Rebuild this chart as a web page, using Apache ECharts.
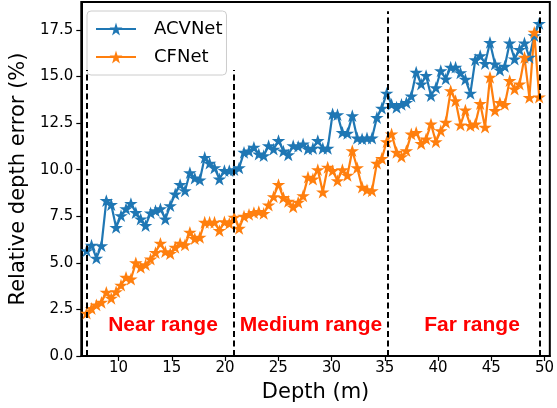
<!DOCTYPE html>
<html>
<head>
<meta charset="utf-8">
<script src="https://cdn.jsdelivr.net/npm/echarts@6/dist/echarts.min.js"></script>
<style>
    html, body { margin: 0; padding: 0; background: #fff; }
    #chart { width: 557px; height: 408px; }
</style>
</head>
<body>
<div id="chart"></div>
<script>
    // depth bins (m)
    const depth = [
        7.00, 7.46, 7.92, 8.39, 8.85, 9.31, 9.77, 10.23, 10.70, 11.16,
        11.62, 12.08, 12.54, 13.01, 13.47, 13.93, 14.39, 14.85, 15.32, 15.78,
        16.24, 16.70, 17.16, 17.63, 18.09, 18.55, 19.01, 19.47, 19.94, 20.40,
        20.86, 21.32, 21.78, 22.25, 22.71, 23.17, 23.63, 24.09, 24.56, 25.02,
        25.48, 25.94, 26.40, 26.87, 27.33, 27.79, 28.25, 28.71, 29.18, 29.64,
        30.10, 30.56, 31.02, 31.49, 31.95, 32.41, 32.87, 33.33, 33.80, 34.26,
        34.72, 35.18, 35.64, 36.11, 36.57, 37.03, 37.49, 37.95, 38.42, 38.88,
        39.34, 39.80, 40.26, 40.73, 41.19, 41.65, 42.11, 42.57, 43.04, 43.50,
        43.96, 44.42, 44.88, 45.35, 45.81, 46.27, 46.73, 47.19, 47.66, 48.12,
        48.58, 49.04, 49.50
    ];
    const acvnet = [
        5.65, 5.95, 5.25, 5.92, 8.34, 8.13, 6.9, 7.53, 7.9, 8.18,
        7.7, 7.35, 7.0, 7.68, 7.8, 7.9, 7.35, 8.07, 8.7, 9.2,
        8.87, 9.84, 9.55, 9.45, 10.66, 10.35, 10.1, 9.5, 9.95, 9.95,
        10.0, 10.1, 10.93, 11.0, 11.2, 10.84, 10.75, 11.29, 11.1, 11.56,
        11.0, 10.8, 11.29, 11.25, 11.38, 11.11, 11.15, 11.56, 11.15, 11.15,
        13.0, 12.95, 12.0, 11.95, 12.9, 11.7, 11.65, 11.7, 11.7, 12.8,
        13.3, 14.1, 13.5, 13.35, 13.5, 13.6, 13.95, 15.23, 14.6, 15.05,
        13.97, 14.4, 15.31, 14.87, 15.5, 15.5, 15.2, 14.85, 14.1, 15.9,
        16.12, 15.7, 16.83, 15.67, 15.35, 15.55, 16.8, 15.94, 16.45, 16.8,
        16.03, 17.19, 17.85
    ];
    const cfnet = [
        2.3, 2.55, 2.74, 2.88, 3.42, 3.1, 3.45, 3.8, 4.22, 4.13,
        5.0, 4.76, 4.9, 5.2, 5.55, 6.05, 5.6, 5.5, 5.83, 6.05,
        5.97, 6.64, 6.3, 6.37, 7.18, 7.18, 7.18, 6.73, 7.2, 7.12,
        7.45, 6.85, 7.5, 7.6, 7.7, 7.75, 7.65, 8.1, 8.55, 9.2,
        8.5, 8.3, 8.0, 8.25, 8.6, 9.6, 9.5, 10.0, 8.8, 10.13,
        9.95, 9.41, 10.0, 9.7, 11.02, 10.1, 9.06, 8.92, 8.87, 10.35,
        10.6, 11.5, 11.92, 10.93, 10.7, 11.02, 11.92, 12.0, 11.4, 11.65,
        12.45, 11.5, 12.09, 12.54, 14.24, 13.7, 12.4, 13.2, 12.37, 12.45,
        13.55, 12.28, 14.96, 13.17, 13.6, 13.5, 14.78, 14.33, 14.6, 16.03,
        13.88, 17.37, 13.9
    ];
    // range boundaries and the top of each dashed line
    const rangeBounds = [7.0, 20.8, 35.3, 49.6];
    const boundTops = [15.35, 15.35, 18.5, 18.5];
    const rangeNames = ['Near range', 'Medium range', 'Far range'];
    const xTicks = [10, 15, 20, 25, 30, 35, 40, 45, 50];
    const yTicks = [0, 2.5, 5, 7.5, 10, 12.5, 15, 17.5];

    const starPath = 'path://M50,0L61.23,34.55L97.55,34.55L68.17,55.9L79.39,90.45L50,69.1L20.61,90.45L31.83,55.9L2.45,34.55L38.77,34.55Z';

    function pairs(ys) {
        return ys.map((v, i) => [depth[i], v]);
    }

    let chart = echarts.init(document.getElementById('chart'));

    let boundLines = rangeBounds.map((x, i) => [{coord: [x, 0]}, {coord: [x, boundTops[i]]}]);

    let option = {
        animation: false,
        color: ['#1f77b4', '#ff7f0e'],
        textStyle: {fontFamily: 'DejaVu Sans'},
        grid: {
            left: 78, right: 4, top: 2, bottom: 51,
            show: true,
            borderColor: '#000',
            borderWidth: 2
        },
        legend: {
            orient: 'vertical',
            left: 87,
            top: 11,
            padding: [9, 4, 9, 8],
            itemWidth: 40,
            itemHeight: 16,
            itemGap: 10,
            borderColor: '#ccc',
            borderWidth: 1,
            borderRadius: 4,
            backgroundColor: 'rgba(255,255,255,0.8)',
            textStyle: {fontSize: 18, color: '#000', fontFamily: 'DejaVu Sans', padding: [0, 0, 0, 13]},
            data: ['ACVNet', 'CFNet']
        },
        xAxis: {
            type: 'value',
            min: 6.5,
            max: 50.5,
            name: 'Depth (m)',
            nameLocation: 'middle',
            nameGap: 26,
            nameTextStyle: {fontSize: 21, color: '#000'},
            splitLine: {show: false},
            axisLine: {lineStyle: {color: '#000', width: 2}},
            axisTick: {customValues: xTicks, length: 5, lineStyle: {color: '#000', width: 1.2}},
            axisLabel: {customValues: xTicks, fontSize: 15, color: '#000', margin: 5}
        },
        yAxis: {
            type: 'value',
            min: 0,
            max: 19,
            name: 'Relative depth error (%)',
            nameLocation: 'middle',
            nameGap: 46,
            nameTextStyle: {fontSize: 21, color: '#000'},
            splitLine: {show: false},
            axisLine: {lineStyle: {color: '#000', width: 2}},
            axisTick: {customValues: yTicks, length: 5, lineStyle: {color: '#000', width: 1.2}},
            axisLabel: {
                customValues: yTicks,
                fontSize: 15,
                color: '#000',
                margin: 8,
                formatter: v => v.toFixed(1)
            }
        },
        graphic: rangeNames.map((t, i) => ({
            type: 'text',
            x: [163, 311, 472][i],
            y: 325,
            style: {
                text: t,
                fill: '#ff0000',
                font: 'bold 21px "Liberation Sans", Arial, sans-serif',
                textAlign: 'center',
                textVerticalAlign: 'middle'
            }
        })),
        series: [
            {
                name: 'ACVNet',
                type: 'line',
                data: pairs(acvnet),
                symbol: starPath,
                symbolSize: [13.5, 12.8],
                showAllSymbol: true,
                lineStyle: {width: 2.2},
                itemStyle: {color: '#1f77b4'}
            },
            {
                name: 'CFNet',
                type: 'line',
                data: pairs(cfnet),
                symbol: starPath,
                symbolSize: [13.5, 12.8],
                showAllSymbol: true,
                lineStyle: {width: 2.2},
                itemStyle: {color: '#ff7f0e'},
                markLine: {
                    silent: true,
                    symbol: ['none', 'none'],
                    label: {show: false},
                    lineStyle: {color: '#000', type: [6, 3.5], width: 2},
                    data: boundLines
                }
            }
        ]
    };
    chart.setOption(option);
</script>
</body>
</html>
